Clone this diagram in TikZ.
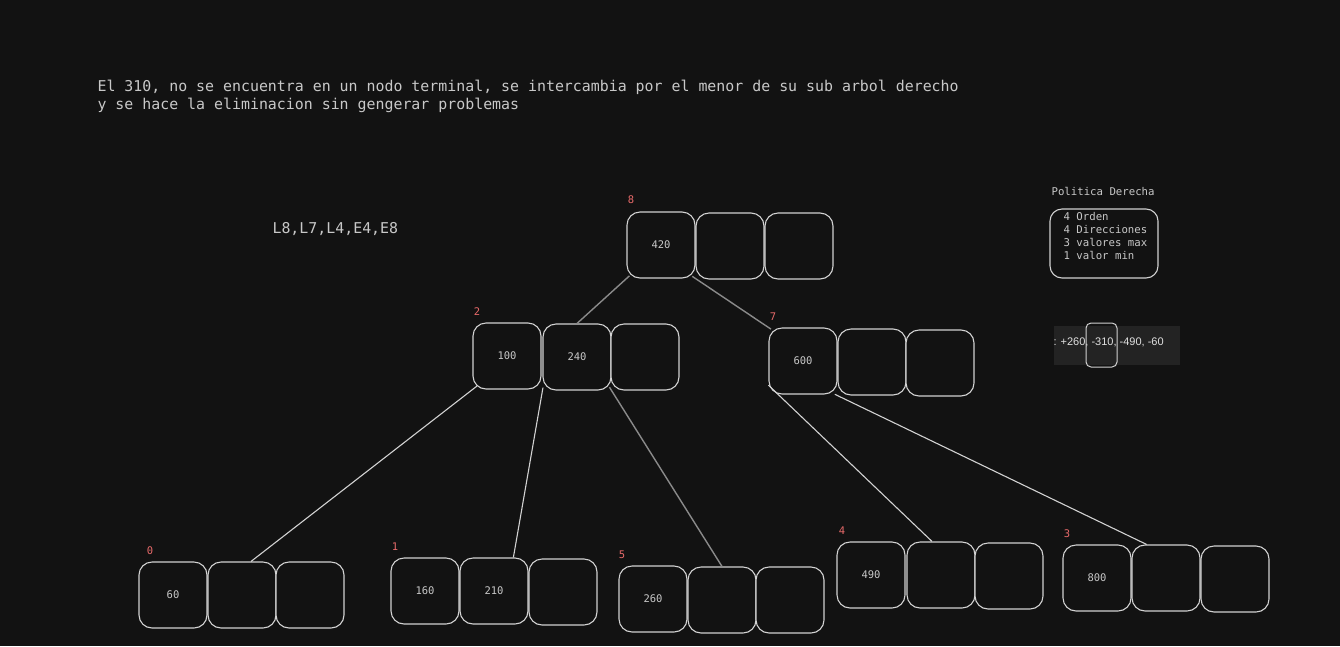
\documentclass[tikz,border=0pt]{standalone}
\usepackage{fontspec}
\setmonofont{DejaVu Sans Mono}
\setsansfont{Liberation Sans}
\usepackage{tikz}
\usetikzlibrary{positioning}
\definecolor{bgdark}{HTML}{121212}
\definecolor{edgegrey}{HTML}{D2D2D2}
\definecolor{dimgrey}{HTML}{8A8A8A}
\definecolor{txtgrey}{HTML}{C8C8C8}
\definecolor{idxred}{HTML}{E86A6A}
\definecolor{panelgrey}{HTML}{232323}

\begin{document}
\begin{tikzpicture}[x=1pt, y=-1pt, line width=1.1pt,
  key/.style={draw=edgegrey, fill=bgdark, rounded corners=13pt, minimum width=68pt,
              minimum height=66pt, inner sep=0pt, text=txtgrey,
              font=\ttfamily\fontsize{10.5}{12}\selectfont},
  idx/.style={text=idxred, inner sep=0pt, font=\ttfamily\fontsize{10.5}{12}\selectfont},
  note/.style={text=txtgrey, inner sep=0pt, align=left, font=\ttfamily\fontsize{14.9}{18}\selectfont},
  small/.style={text=txtgrey, inner sep=0pt, align=left, font=\ttfamily\fontsize{10.7}{13}\selectfont},
  link/.style={draw=edgegrey, line width=1.1pt, shorten <=-3pt},
  dimlink/.style={draw=dimgrey, line width=1.4pt, shorten <=-4pt}]
  % --- canvas
  \fill[bgdark] (0,0) rectangle (1340,646);
  \useasboundingbox (0,0) rectangle (1340,646);
  % --- notes
  \node[note, anchor=west] (nota) at (97,96)
    {El 310, no se encuentra en un nodo terminal, se intercambia por el menor de su sub arbol derecho\\
     y se hace la eliminacion sin gengerar problemas};
  \node[note, anchor=west] (seq) at (272,229) {L8,L7,L4,E4,E8};
  % --- root (8)
  \node[idx] (l8) at (631,200) {8};
  \node[key] (n8a) at (661,245) {420};
  \node[key] (n8b) at (730,246) {};
  \node[key] (n8c) at (799,246) {};
  % --- level 1
  \node[idx] (l2) at (477,312) {2};
  \node[key] (n2a) at (507,356) {100};
  \node[key] (n2b) at (577,357) {240};
  \node[key] (n2c) at (645,357) {};
  \node[idx] (l7) at (773,317) {7};
  \node[key] (n7a) at (803,361) {600};
  \node[key] (n7b) at (872,362) {};
  \node[key] (n7c) at (940,363) {};
  % --- leaves
  \node[idx] (l0) at (150,551) {0};
  \node[key] (n0a) at (173,595) {60};
  \node[key] (n0b) at (242,595) {};
  \node[key] (n0c) at (310,595) {};
  \node[idx] (l1) at (395,547) {1};
  \node[key] (n1a) at (425,591) {160};
  \node[key] (n1b) at (494,591) {210};
  \node[key] (n1c) at (563,592) {};
  \node[idx] (l5) at (622,555) {5};
  \node[key] (n5a) at (653,599) {260};
  \node[key] (n5b) at (722,600) {};
  \node[key] (n5c) at (790,600) {};
  \node[idx] (l4) at (842,531) {4};
  \node[key] (n4a) at (871,575) {490};
  \node[key] (n4b) at (941,575) {};
  \node[key] (n4c) at (1009,576) {};
  \node[idx] (l3) at (1067,534) {3};
  \node[key] (n3a) at (1097,578) {800};
  \node[key] (n3b) at (1166,578) {};
  \node[key] (n3c) at (1235,579) {};
  % --- edges
  \draw[dimlink] (n8a.south west) -- (n2b.north);
  \draw[dimlink, shorten >=-3pt] (n8a.south east) -- (n7a.north west);
  \draw[link, shorten <=-6pt] (n2a.south west) -- (n0b.75);
  \draw[link] (n2b.south west) -- (n1b.60);
  \draw[dimlink] (n2b.south east) -- (n5b.north);
  \draw[link, shorten <=0pt] (n7a.215) -- (n4b.105);
  \draw[link] (n7b.south west) -- (n3b.120);
  % --- policy box
  \node[small, anchor=west] (poltit) at (1051,191) {Politica Derecha};
  \node[draw=edgegrey, rounded corners=12pt, minimum width=108pt, minimum height=69pt,
        inner sep=0pt] (polbox) at (1104,243.5) {};
  \node[small, anchor=north west] (poltxt) at (1063,211.5)
    {4 Orden\\4 Direcciones\\3 valores max\\1 valor min};
  % --- pasted strip
  \node[fill=panelgrey, minimum width=126pt, minimum height=39pt, inner sep=0pt] (strip) at (1117,345.5) {};
  \node[anchor=west, inner sep=0pt, text=white!88!black,
        font=\sffamily\fontsize{11}{13}\selectfont] (striptxt) at (1053,342)
    {: +260, -310, -490, -60};
  \node[draw=edgegrey, rounded corners=5pt, minimum width=31pt, minimum height=44pt,
        inner sep=0pt, line width=1pt] (pick) at (1101.5,345) {};
\end{tikzpicture}
\end{document}
